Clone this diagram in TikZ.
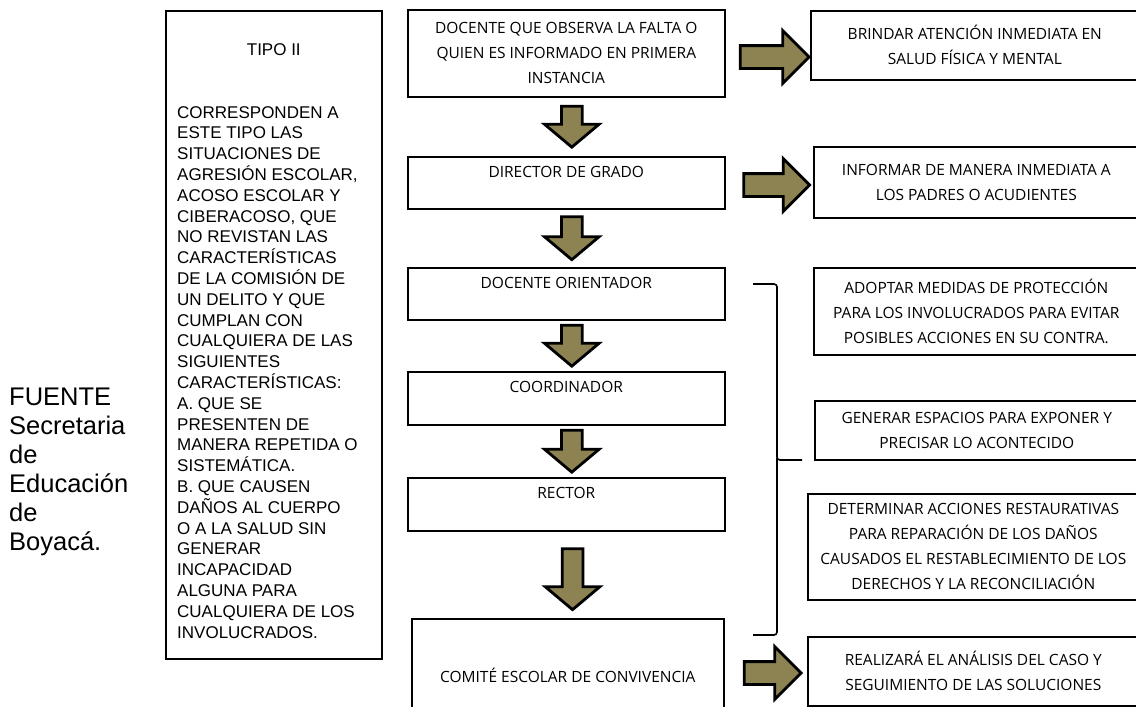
\documentclass[tikz,border=0pt]{standalone}
\usepackage{fontspec}
\setmainfont{Liberation Sans}
\newfontfamily\cajafont{Open Sans}
\usetikzlibrary{shapes.arrows,positioning,calc}
\definecolor{olivo}{RGB}{140,130,82}

\tikzset{
	caja/.style={draw,line width=1.6pt,anchor=north west,inner sep=0pt},
	letra/.style={font=\cajafont\fontsize{15.5}{25}\selectfont,align=center,inner sep=0pt},
	bajada/.style={single arrow,draw=black,line width=2.8pt,fill=olivo,inner sep=9pt,
		single arrow head extend=17pt,single arrow tip angle=100,rotate=-90},
	salida/.style={single arrow,draw=black,line width=2.8pt,fill=olivo,inner sep=10pt,
		single arrow head extend=15pt,single arrow tip angle=90}
}

\begin{document}
\begin{tikzpicture}[x=1pt,y=-1pt]
	\useasboundingbox (0,0) rectangle (1136,707);
	% fuente
	\node[anchor=north west,align=left,inner sep=0pt,font=\fontsize{25.5}{29}\selectfont] (fuente) at (9,388)
		{FUENTE\\Secretaria\\de\\Educación\\de\\Boyacá.};
	% tipo II
	\node[caja,minimum width=216pt,minimum height=648pt] (tipo) at (165,10) {};
	\node[font=\fontsize{17}{20}\selectfont,below=33pt of tipo.north,inner sep=0pt] (titulo) {TIPO II};
	\node[anchor=north west,align=left,inner sep=0pt,font=\fontsize{17}{20.8}\selectfont] (desc) at (177,106)
		{CORRESPONDEN A\\ESTE TIPO LAS\\SITUACIONES DE\\AGRESIÓN ESCOLAR,\\ACOSO ESCOLAR Y\\CIBERACOSO, QUE\\NO REVISTAN LAS\\CARACTERÍSTICAS\\DE LA COMISIÓN DE\\UN DELITO Y QUE\\CUMPLAN CON\\CUALQUIERA DE LAS\\SIGUIENTES\\CARACTERÍSTICAS:\\A. QUE SE\\PRESENTEN DE\\MANERA REPETIDA O\\SISTEMÁTICA.\\B. QUE CAUSEN\\DAÑOS AL CUERPO\\O A LA SALUD SIN\\GENERAR\\INCAPACIDAD\\ALGUNA PARA\\CUALQUIERA DE LOS\\INVOLUCRADOS.};
	% ruta central
	\node[caja,minimum width=317pt,minimum height=87pt] (docente) at (407,9) {};
	\node[letra] at (docente.center) {DOCENTE QUE OBSERVA LA FALTA O\\QUIEN ES INFORMADO EN PRIMERA\\INSTANCIA};
	\node[caja,minimum width=317pt,minimum height=52pt] (director) at (407,156) {};
	\node[letra,below=10pt of director.north] {DIRECTOR DE GRADO};
	\node[caja,minimum width=317pt,minimum height=52pt] (orientador) at (407,267) {};
	\node[letra,below=10pt of orientador.north] {DOCENTE ORIENTADOR};
	\node[caja,minimum width=317pt,minimum height=53pt] (coordinador) at (407,371) {};
	\node[letra,below=10pt of coordinador.north] {COORDINADOR};
	\node[caja,minimum width=317pt,minimum height=53pt] (rector) at (407,477) {};
	\node[letra,below=10pt of rector.north] {RECTOR};
	\node[caja,minimum width=312pt,minimum height=110pt] (comite) at (411,618) {};
	\node[letra,below=50pt of comite.north] {COMITÉ ESCOLAR DE CONVIVENCIA};
	% flechas hacia abajo
	\node[bajada,minimum height=41pt] (f1) at ($(docente.south)!.5!(director.north)+(5.5,-4.5)$) {};
	\node[bajada,minimum height=43pt] (f2) at ($(director.south)!.5!(orientador.north)+(5.5,-4.5)$) {};
	\node[bajada,minimum height=41pt] (f3) at ($(orientador.south)!.5!(coordinador.north)+(5.5,-4.5)$) {};
	\node[bajada,minimum height=42pt] (f4) at ($(coordinador.south)!.5!(rector.north)+(5.5,-4.5)$) {};
	\node[bajada,minimum height=61pt] (f5) at ($(rector.south)!.5!(comite.north)+(5.5,0)$) {};
	% acciones
	\node[caja,letra,minimum width=328pt,minimum height=69pt,anchor=north west] (brindar) at (810,10)
		{BRINDAR ATENCIÓN INMEDIATA EN\\SALUD FÍSICA Y MENTAL};
	\node[caja,letra,minimum width=325pt,minimum height=71pt,anchor=north west] (informar) at (813,146)
		{INFORMAR DE MANERA INMEDIATA A\\LOS PADRES O ACUDIENTES};
	\node[caja,letra,minimum width=325pt,minimum height=87pt,anchor=north west] (adoptar) at (813,267)
		{ADOPTAR MEDIDAS DE PROTECCIÓN\\PARA LOS INVOLUCRADOS PARA EVITAR\\POSIBLES ACCIONES EN SU CONTRA.};
	\node[caja,letra,minimum width=324pt,minimum height=59pt,anchor=north west] (generar) at (814,400)
		{GENERAR ESPACIOS PARA EXPONER Y\\PRECISAR LO ACONTECIDO};
	\node[caja,letra,minimum width=331pt,minimum height=106pt,anchor=north west] (determinar) at (807,493)
		{DETERMINAR ACCIONES RESTAURATIVAS\\PARA REPARACIÓN DE LOS DAÑOS\\CAUSADOS EL RESTABLECIMIENTO DE LOS\\DERECHOS Y LA RECONCILIACIÓN};
	\node[caja,letra,minimum width=331pt,minimum height=69pt,anchor=north west] (realizar) at (807,636)
		{REALIZARÁ EL ANÁLISIS DEL CASO Y\\SEGUIMIENTO DE LAS SOLUCIONES};
	% flechas a la derecha
	\node[salida,minimum height=69pt] (g1) at (769,57) {};
	\node[salida,minimum height=66pt] (g2) at (771,185) {};
	\node[salida,minimum height=57pt] (g3) at (767,673) {};
	% llave
	\coordinate (llave arriba) at (753,284);
	\coordinate (llave abajo) at (753,635);
	\coordinate (llave pico) at (802,460);
	\draw[line width=1.6pt,rounded corners=3pt] (llave arriba) -| (777,460) -- (llave pico);
	\draw[line width=1.6pt,rounded corners=3pt] (777,458) |- (llave abajo);
\end{tikzpicture}
\end{document}
